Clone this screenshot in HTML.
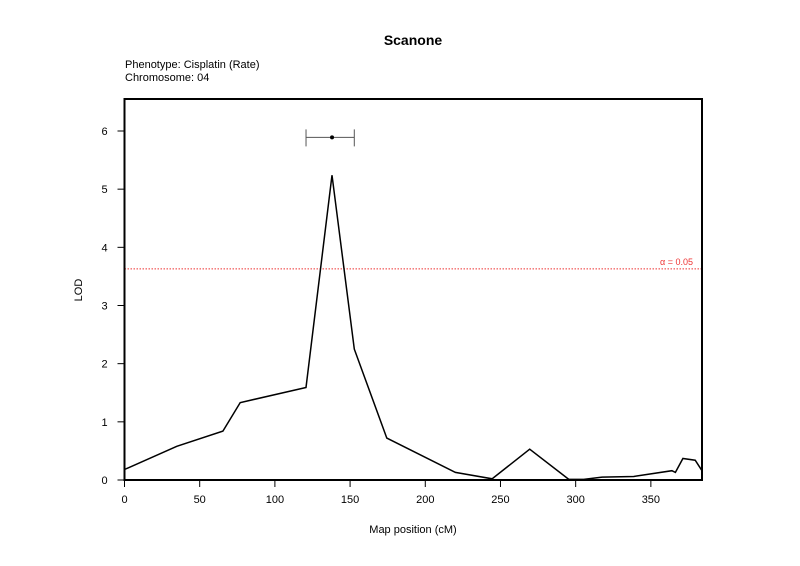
<!DOCTYPE html>
<html><head><meta charset="utf-8"><style>
body{margin:0;background:#fff;}
svg{display:block;font-family:"Liberation Sans",Arial,sans-serif;}
</style></head><body>
<svg id="chart" width="800" height="566"></svg>
<script>
const positions=[0,34.8,65.4,76.9,120.7,138,152.8,174.4,220,244.4,269.4,295.4,305.4,317.6,338.6,364,366.3,371.3,379.5,384];
const lodValues=[0.18,0.58,0.84,1.33,1.59,5.24,2.25,0.72,0.13,0.02,0.53,0.01,0.01,0.05,0.06,0.16,0.13,0.37,0.34,0.16];
const xTicks=[0,50,100,150,200,250,300,350];
const yTicks=[0,1,2,3,4,5,6];
const threshold=[3.63];
const interval=[120.7,138,152.8];
const peakMarkerLod=[5.89];
const L=124.5,R=702,T=99,B=480;
const X0=0,X1=384,Y0=0,Y1=6.55;
const sx=v=>L+(v-X0)/(X1-X0)*(R-L);
const sy=v=>B-(v-Y0)/(Y1-Y0)*(B-T);
const svg=document.getElementById('chart');
const NS='http://www.w3.org/2000/svg';
function mk(tag,attrs,parent){const e=document.createElementNS(NS,tag);for(const k in attrs)e.setAttribute(k,attrs[k]);(parent||svg).appendChild(e);return e;}
let t=mk('text',{x:413,y:45,'text-anchor':'middle','font-size':14,'font-weight':'bold'});t.textContent='Scanone';


t=mk('text',{x:125,y:68,'font-size':11});t.textContent='Phenotype: Cisplatin (Rate)';


t=mk('text',{x:125,y:81,'font-size':11});t.textContent='Chromosome: 04';


// threshold
let thr=mk('line',{x1:L,x2:R,y1:sy(threshold[0]),y2:sy(threshold[0]),stroke:'#e33',"stroke-width":1,"stroke-dasharray":"1.5,1.5"});


t=mk('text',{x:693,y:sy(threshold[0])-4,'text-anchor':'end','font-size':9,fill:'#e33'});t.textContent='α = 0.05';


// line
let d=positions.map((p,i)=>(i?'L':'M')+sx(p).toFixed(1)+','+sy(lodValues[i]).toFixed(1)).join(' ');
let ln=mk('path',{d:d,fill:'none',stroke:'#000','stroke-width':1.5,'stroke-linejoin':'miter'});


// interval
const iy=sy(peakMarkerLod[0]);
let g=mk('g',{stroke:'#555','stroke-width':1});


mk('line',{x1:sx(interval[0]),x2:sx(interval[2]),y1:iy,y2:iy},g);
mk('line',{x1:sx(interval[0]),x2:sx(interval[0]),y1:iy-8,y2:iy+9},g);
mk('line',{x1:sx(interval[2]),x2:sx(interval[2]),y1:iy-8,y2:iy+9},g);
let pk=mk('circle',{cx:sx(interval[1]),cy:iy,r:2,fill:'#000'});


// box
let bx=mk('rect',{x:L,y:T,width:R-L,height:B-T,fill:'none',stroke:'#000','stroke-width':2});


xTicks.forEach(v=>{const x=sx(v);mk('line',{x1:x,x2:x,y1:B,y2:B+7,stroke:'#000'});
const tt=mk('text',{x:x,y:B+23,'text-anchor':'middle','font-size':11});tt.textContent=v;

});
yTicks.forEach(v=>{const y=sy(v);mk('line',{x1:L,x2:L-7,y1:y,y2:y,stroke:'#000'});
const tt=mk('text',{x:L-20,y:y+4,'text-anchor':'middle','font-size':11});tt.textContent=v;

});
t=mk('text',{x:413,y:533,'text-anchor':'middle','font-size':11});t.textContent='Map position (cM)';


t=mk('text',{x:82,y:290,'text-anchor':'middle','font-size':11,transform:'rotate(-90 82 290)'});t.textContent='LOD';


</script>
</body></html>
